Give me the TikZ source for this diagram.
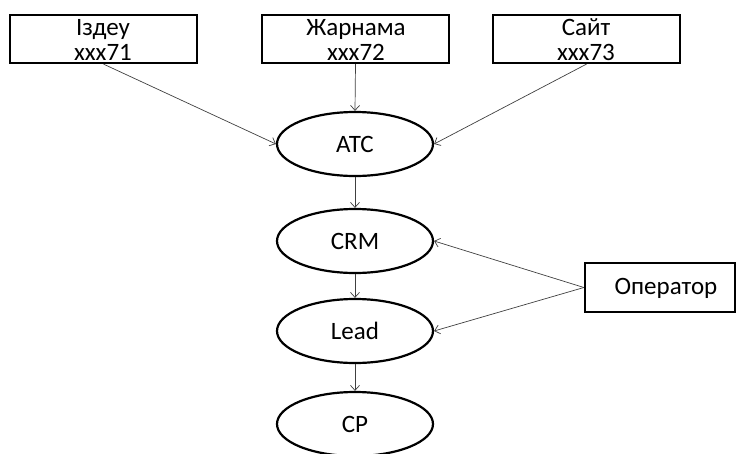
\documentclass[tikz,border=0pt]{standalone}
\usepackage{fontspec}
\setmainfont{Carlito}
\usetikzlibrary{shapes.geometric,arrows.meta}
\begin{document}
\begin{tikzpicture}[x=1pt,y=-1pt,
  src/.style={draw, line width=2.2pt, minimum width=187pt, minimum height=48pt, inner sep=0pt},
  lbl/.style={anchor=base, inner sep=0pt, font=\fontsize{25}{25}\selectfont},
  oval/.style={ellipse, draw, line width=2.2pt, minimum width=156pt, minimum height=64pt, inner sep=0pt, font=\fontsize{25}{25}\selectfont},
  conn/.style={-{Straight Barb[length=5pt,width=9pt]}, line width=0.7pt, draw=black!75}]
\useasboundingbox (0,0) rectangle (737,453);
\node[src] (s1) at (103.5,39) {};
\node[src] (s2) at (355.5,39) {};
\node[src] (s3) at (586.5,39) {};
\node[lbl] (s1a) at (103,35) {Іздеу};
\node[lbl] (s1b) at (103,60) {xxx71};
\node[lbl] (s2a) at (356,35) {Жарнама};
\node[lbl] (s2b) at (356,60) {xxx72};
\node[lbl] (s3a) at (586,35) {Сайт};
\node[lbl] (s3b) at (586,60) {xxx73};
\node[oval] (atc) at (355,144) {ATC};
\node[oval] (crm) at (355,241) {CRM};
\node[oval] (lead) at (355,331) {Lead};
\node[oval] (cp) at (355,424) {CP};
\node[src, minimum width=150pt, minimum height=49pt] (op) at (660,287.5) {};
\node[lbl] (opt) at (666,294) {Оператор};
\draw[conn] (s1.south) -- (atc.west);
\draw[conn] (s2.south) -- (atc.north);
\draw[conn] (s3.south) -- (atc.east);
\draw[conn] (atc.south) -- (crm.north);
\draw[conn] (crm.south) -- (lead.north);
\draw[conn] (lead.south) -- (cp.north);
\draw[conn] (op.west) -- (crm.east);
\draw[conn] (op.west) -- (lead.east);
\end{tikzpicture}
\end{document}
